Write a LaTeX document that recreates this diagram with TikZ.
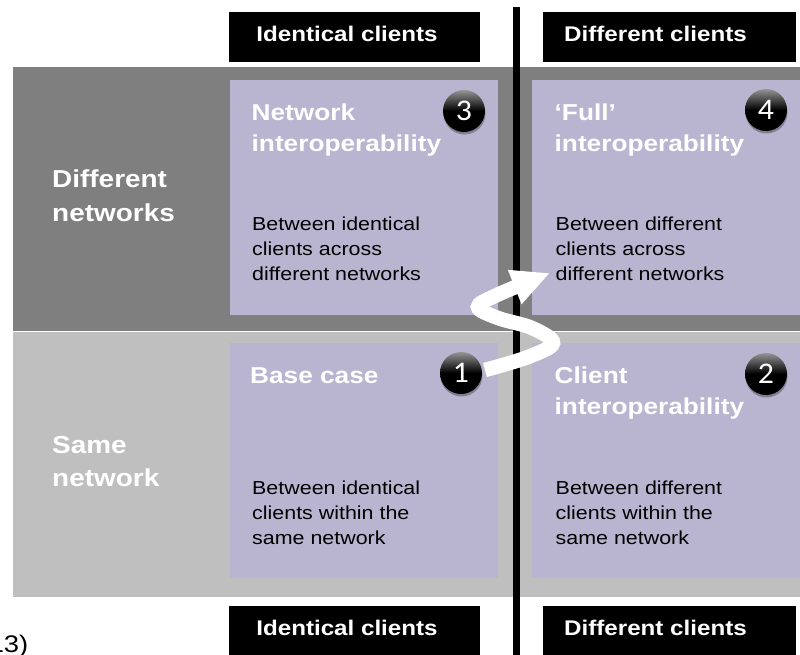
\documentclass[tikz,border=0pt]{standalone}
\usepackage{fontspec}
\setmainfont[FakeStretch=1.14]{Liberation Sans}
\newfontfamily\numfont[FakeStretch=1.06]{Carlito}
\usetikzlibrary{arrows.meta,shadows}
\definecolor{bandDark}{RGB}{127,127,127}
\definecolor{bandLight}{RGB}{191,191,191}
\definecolor{cellFill}{RGB}{185,181,208}
\begin{document}
\begin{tikzpicture}[x=1pt,y=-1pt,
  cellbox/.style={fill=cellFill, draw=none, inner sep=0pt, outer sep=0pt, minimum width=268.5pt, minimum height=235pt},
  hdrbox/.style={fill=black, draw=none, inner sep=0pt, outer sep=0pt, minimum width=#1, minimum height=49.4pt},
  hdrtext/.style={anchor=base, inner sep=0pt, text=white, font=\bfseries\fontsize{21.2}{21.2}\selectfont},
  titletext/.style={anchor=base west, inner sep=0pt, text=white, font=\bfseries\fontsize{23}{23}\selectfont},
  bodytext/.style={anchor=base west, inner sep=0pt, text=black, font=\fontsize{18.8}{18.8}\selectfont},
  sidetext/.style={anchor=base west, inner sep=0pt, text=white, font=\bfseries\fontsize{24.5}{24.5}\selectfont},
  numball/.style={circle, minimum size=42pt, inner sep=0pt,
    top color=black!42, bottom color=black, middle color=black, text=white,
    font=\numfont\fontsize{30}{30}\selectfont,
    drop shadow={shadow xshift=0.5pt, shadow yshift=-2.5pt, opacity=0.3, fill=black}},
]
\useasboundingbox (0,0) rectangle (800,654);
% bands
\fill[bandDark] (13,66.7) rectangle (800,330.5);
\fill[bandLight] (13,332) rectangle (800,597);
% cells
\node[cellbox] (c3) at (363.75,197.5) {};
\node[cellbox] (c4) at (666.25,197.5) {};
\node[cellbox] (c1) at (363.75,460.5) {};
\node[cellbox] (c2) at (666.25,460.5) {};
% side labels
\node[sidetext] (dn1) at (52,187) {Different};
\node[sidetext] (dn2) at (52,221) {networks};
\node[sidetext] (sn1) at (52,453) {Same};
\node[sidetext] (sn2) at (52,486) {network};
% headers
\node[hdrbox=251pt] (ht1) at (354.5,37) {};
\node[hdrbox=253pt] (ht2) at (669.5,37) {};
\node[hdrbox=251pt] (hb1) at (354.5,630.7) {};
\node[hdrbox=253pt] (hb2) at (669.5,630.7) {};
\node[hdrtext] (tt1) at (347,41.7) {Identical clients};
\node[hdrtext] (tt2) at (655.5,41.7) {Different clients};
\node[hdrtext] (tb1) at (347,635) {Identical clients};
\node[hdrtext] (tb2) at (655.5,635) {Different clients};
% vertical divider
\coordinate (vtop) at (516.5,7);
\coordinate (vbot) at (516.5,660);
\draw[line width=7pt] (vtop) -- (vbot);
% cell texts
\node[titletext] (t3a) at (251.5,120) {Network};
\node[titletext] (t3b) at (251.5,151) {interoperability};
\node[bodytext] (b3a) at (252,230) {Between identical};
\node[bodytext] (b3b) at (252,255) {clients across};
\node[bodytext] (b3c) at (252,280) {different networks};
\node[titletext] (t4a) at (554.5,120) {‘Full’};
\node[titletext] (t4b) at (554.5,151) {interoperability};
\node[bodytext] (b4a) at (555.5,230) {Between different};
\node[bodytext] (b4b) at (555.5,255) {clients across};
\node[bodytext] (b4c) at (555.5,280) {different networks};
\node[titletext] (t1a) at (250,383) {Base case};
\node[bodytext] (b1a) at (252,494) {Between identical};
\node[bodytext] (b1b) at (252,519) {clients within the};
\node[bodytext] (b1c) at (252,544) {same network};
\node[titletext] (t2a) at (554.5,383) {Client};
\node[titletext] (t2b) at (554.5,414) {interoperability};
\node[bodytext] (b2a) at (555.5,494) {Between different};
\node[bodytext] (b2b) at (555.5,519) {clients within the};
\node[bodytext] (b2c) at (555.5,544) {same network};
% S-shaped arrow
\draw[white, line width=14.5pt, -{Triangle[length=38pt,width=34pt]}]
  plot[smooth, tension=0.6] coordinates {(485,370) (528,357) (553,343) (532,328) (498,318) (478,307) (497,295) (550,273)};
% numbered balls
\node[numball] (n3) at (464,111) {3};
\node[numball] (n4) at (766,110) {4};
\node[numball] (n1) at (461,373) {1};
\node[numball] (n2) at (766,374) {2};
% cut-off note
\node[anchor=base east, inner sep=0pt, font=\fontsize{24}{24}\selectfont] (yr) at (28.5,652) {13)};
\end{tikzpicture}
\end{document}
